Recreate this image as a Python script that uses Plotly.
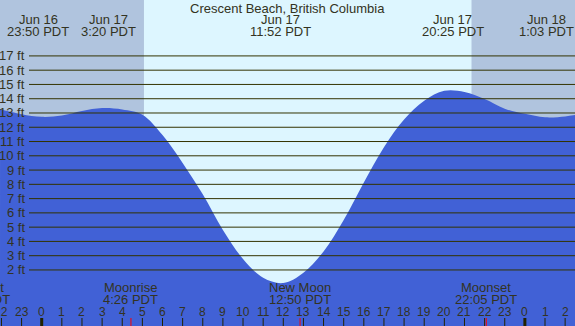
import plotly.graph_objects as go

# ---- data (hours relative to Jun 17 00:00 PDT) ----
hours = [-2.07, -2, -1, 0, 1, 2, 3, 4, 5, 6, 7, 8, 9, 10, 11, 12, 13, 14, 15, 16,
         17, 18, 19, 20, 21, 22, 23, 24, 25, 26, 26.5]
heights = [13.28, 13.25, 12.92, 12.73, 12.82, 13.14, 13.35, 13.25, 12.88, 11.45, 9.5,
           7.3, 4.8, 2.77, 1.45, 1.08, 1.8, 3.3, 5.5, 8.13, 10.6, 12.54, 13.85, 14.55,
           14.47, 13.98, 13.3, 12.94, 12.7, 12.76, 12.86]

tide_hours = [-0.167, 3.333, 11.867, 20.417, 25.05]
tide_dates = ["Jun 16", "Jun 17", "Jun 17", "Jun 17", "Jun 18"]
tide_times = ["23:50 PDT", "3:20 PDT", "11:52 PDT", "20:25 PDT", "1:03 PDT"]

moon_hours = [-3.1, 4.433, 12.833, 22.083]
moon_names = ["Moonset", "Moonrise", "New Moon", "Moonset"]
moon_times = ["20:54 PDT", "4:26 PDT", "12:50 PDT", "22:05 PDT"]

sunrise = 5.08
sunset = 21.35

y_levels = list(range(2, 18))
hour_ticks = list(range(-2, 27))

title = "Crescent Beach, British Columbia"

# ---- style ----
W, H = 575, 326
X0, X1 = -2.072, 26.49
Y0, Y1 = -1.927, 20.918
PX_PER_H = W / (X1 - X0)
NIGHT = "#B0C4DE"
DAY = "#DDF6FF"
WATER = "#4161D6"
LINE = "#333300"
TXT = "#333322"
FONT = "Liberation Sans, Arial, sans-serif"


def py(px):
    return 1 - px / H


def xpos(h):
    """Annotation anchor kept inside the axis range; offset via xshift if outside."""
    if h < X0:
        return X0, (h - X0) * PX_PER_H
    if h > X1:
        return X1, (h - X1) * PX_PER_H
    return h, 0


fig = go.Figure()
fig.add_trace(go.Scatter(x=[X0, X1], y=[Y0 - 1, Y0 - 1], mode="lines",
                         line=dict(width=0), hoverinfo="skip", showlegend=False))
fig.add_trace(go.Scatter(x=hours, y=heights, mode="lines", fill="tonexty",
                         fillcolor=WATER, line=dict(color=WATER, width=0, shape="spline", smoothing=1.0),
                         hoverinfo="skip", showlegend=False))

shapes = []
shapes.append(dict(type="rect", xref="x", yref="paper", x0=X0, x1=sunrise, y0=0, y1=1,
                   fillcolor=NIGHT, line=dict(width=0), layer="below"))
shapes.append(dict(type="rect", xref="x", yref="paper", x0=sunrise, x1=sunset, y0=0, y1=1,
                   fillcolor=DAY, line=dict(width=0), layer="below"))
shapes.append(dict(type="rect", xref="x", yref="paper", x0=sunset, x1=X1, y0=0, y1=1,
                   fillcolor=NIGHT, line=dict(width=0), layer="below"))
for lv in y_levels:
    shapes.append(dict(type="line", xref="paper", yref="y", x0=29 / W, x1=1, y0=lv, y1=lv,
                       line=dict(color=LINE, width=1), layer="above"))
for h in hour_ticks:
    wide = (h % 24 == 0)
    shapes.append(dict(type="line", xref="x", yref="paper", x0=h, x1=h, y0=0, y1=8 / H,
                       line=dict(color="#222200", width=3 if wide else 1), layer="above"))
for mh in moon_hours:
    shapes.append(dict(type="line", xref="x", yref="paper", x0=mh, x1=mh, y0=0, y1=8 / H,
                       line=dict(color="#FF0000", width=1), layer="above"))

ann = []
font13 = dict(family=FONT, size=13, color=TXT)
font12 = dict(family=FONT, size=12, color=TXT)
ann.append(dict(text=title, xref="paper", yref="paper", x=0.5, y=py(8.5), xanchor="center",
                yanchor="middle", showarrow=False, font=font13))
for th, d, t in zip(tide_hours, tide_dates, tide_times):
    ann.append(dict(text=d, xref="x", yref="paper", x=th, y=py(20), xanchor="center",
                    yanchor="middle", showarrow=False, font=font13))
    ann.append(dict(text=t, xref="x", yref="paper", x=th, y=py(32), xanchor="center",
                    yanchor="middle", showarrow=False, font=font13))
for lv in y_levels:
    ann.append(dict(text=f"{lv} ft", xref="paper", yref="y", x=27 / W, y=lv, xanchor="right",
                    yanchor="middle", showarrow=False, font=font13))
for mh, n, t in zip(moon_hours, moon_names, moon_times):
    ax, sh = xpos(mh)
    ann.append(dict(text=n, xref="x", yref="paper", x=ax, xshift=sh, y=py(287), xanchor="center",
                    yanchor="middle", showarrow=False, font=font13))
    ann.append(dict(text=t, xref="x", yref="paper", x=ax, xshift=sh, y=py(299.5), xanchor="center",
                    yanchor="middle", showarrow=False, font=font13))
for h in hour_ticks:
    ann.append(dict(text=str(h % 24), xref="x", yref="paper", x=h, y=py(311.5), xanchor="center",
                    yanchor="middle", showarrow=False, font=font12))

fig.update_layout(
    width=W, height=H, margin=dict(l=0, r=0, t=0, b=0, pad=0),
    paper_bgcolor=DAY, plot_bgcolor=DAY,
    xaxis=dict(range=[X0, X1], visible=False, fixedrange=True),
    yaxis=dict(range=[Y0, Y1], visible=False, fixedrange=True),
    shapes=shapes, annotations=ann, showlegend=False,
)
fig.write_html("out.html", config={"displayModeBar": False},
               post_script="document.body.style.margin='0';")
